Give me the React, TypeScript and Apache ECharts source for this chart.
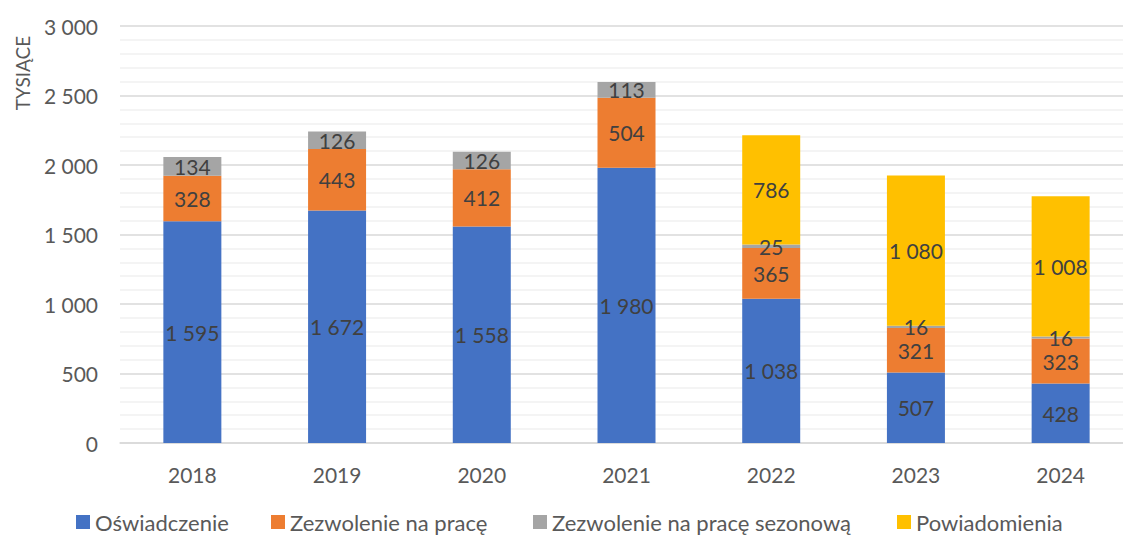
import React, { useEffect, useRef } from "react";
import * as echarts from "echarts";

const years = ["2018", "2019", "2020", "2021", "2022", "2023", "2024"];
const seriesNames = ["Oświadczenie", "Zezwolenie na pracę", "Zezwolenie na pracę sezonową", "Powiadomienia"];
const oswiadczenie = [1595, 1672, 1558, 1980, 1038, 507, 428];
const zezwolenie = [328, 443, 412, 504, 365, 321, 323];
const sezonowe = [134, 126, 126, 113, 25, 16, 16];
const powiadomienia = [null, null, null, null, 786, 1080, 1008];

const FONT = "Lato";
const fmt = (v: number) => String(Math.round(v)).replace(/\B(?=(\d{3})+(?!\d))/g, " ");

export default function App() {
  const ref = useRef<HTMLDivElement>(null);
  useEffect(() => {
    document.body.style.margin = "0";
    const chart = echarts.init(ref.current!, null, { renderer: "svg" });
    const mk = (name: string, data: (number | null)[], color: string) => ({
      name,
      type: "bar",
      stack: "a",
      data,
      barWidth: 58,
      itemStyle: { color },
      label: {
        show: true,
        position: "inside",
        color: "#404040",
        fontFamily: FONT,
        fontSize: 21,
        formatter: (p: any) => fmt(p.value),
      },
    });
    const legendLefts = [76, 271, 533, 897];
    chart.setOption({
      animation: false,
      textStyle: { fontFamily: FONT },
      grid: { left: 120, top: 26, width: 1013, height: 417 },
      legend: seriesNames.map((n, i) => ({
        top: 511,
        left: legendLefts[i],
        padding: 0,
        itemWidth: 14,
        itemHeight: 14,
        icon: "rect",
        textStyle: { fontSize: 22, color: "#595959", fontFamily: FONT },
        data: [n],
      })),
      xAxis: {
        type: "category",
        data: years,
        axisTick: { show: false },
        axisLine: { lineStyle: { color: "#D9D9D9", width: 1.5 } },
        axisLabel: { color: "#595959", fontSize: 21, fontFamily: FONT, margin: 21 },
      },
      yAxis: {
        type: "value",
        min: 0,
        max: 3000,
        interval: 500,
        axisLabel: { color: "#595959", fontSize: 21, fontFamily: FONT, margin: 22, formatter: (v: number) => fmt(v) },
        splitLine: { lineStyle: { color: "#D9D9D9", width: 1.5 } },
        minorTick: { show: false, splitNumber: 5 },
        minorSplitLine: { show: true, lineStyle: { color: "#F0F0F0", width: 1.5 } },
      },
      graphic: [
        {
          type: "text",
          x: 22,
          y: 73,
          rotation: Math.PI / 2,
          style: {
            text: "TYSIĄCE",
            fill: "#595959",
            font: `19px ${FONT}`,
            textAlign: "center",
            textVerticalAlign: "middle",
          },
        },
      ],
      series: [
        mk(seriesNames[0], oswiadczenie, "#4472C4"),
        mk(seriesNames[1], zezwolenie, "#ED7D31"),
        mk(seriesNames[2], sezonowe, "#A5A5A5"),
        mk(seriesNames[3], powiadomienia, "#FFC000"),
      ],
    });
    return () => chart.dispose();
  }, []);
  return (
    <div style={{ width: 1123, height: 538, overflow: "hidden", position: "relative" }}>
      <div ref={ref} style={{ width: 1140, height: 538 }} />
    </div>
  );
}
